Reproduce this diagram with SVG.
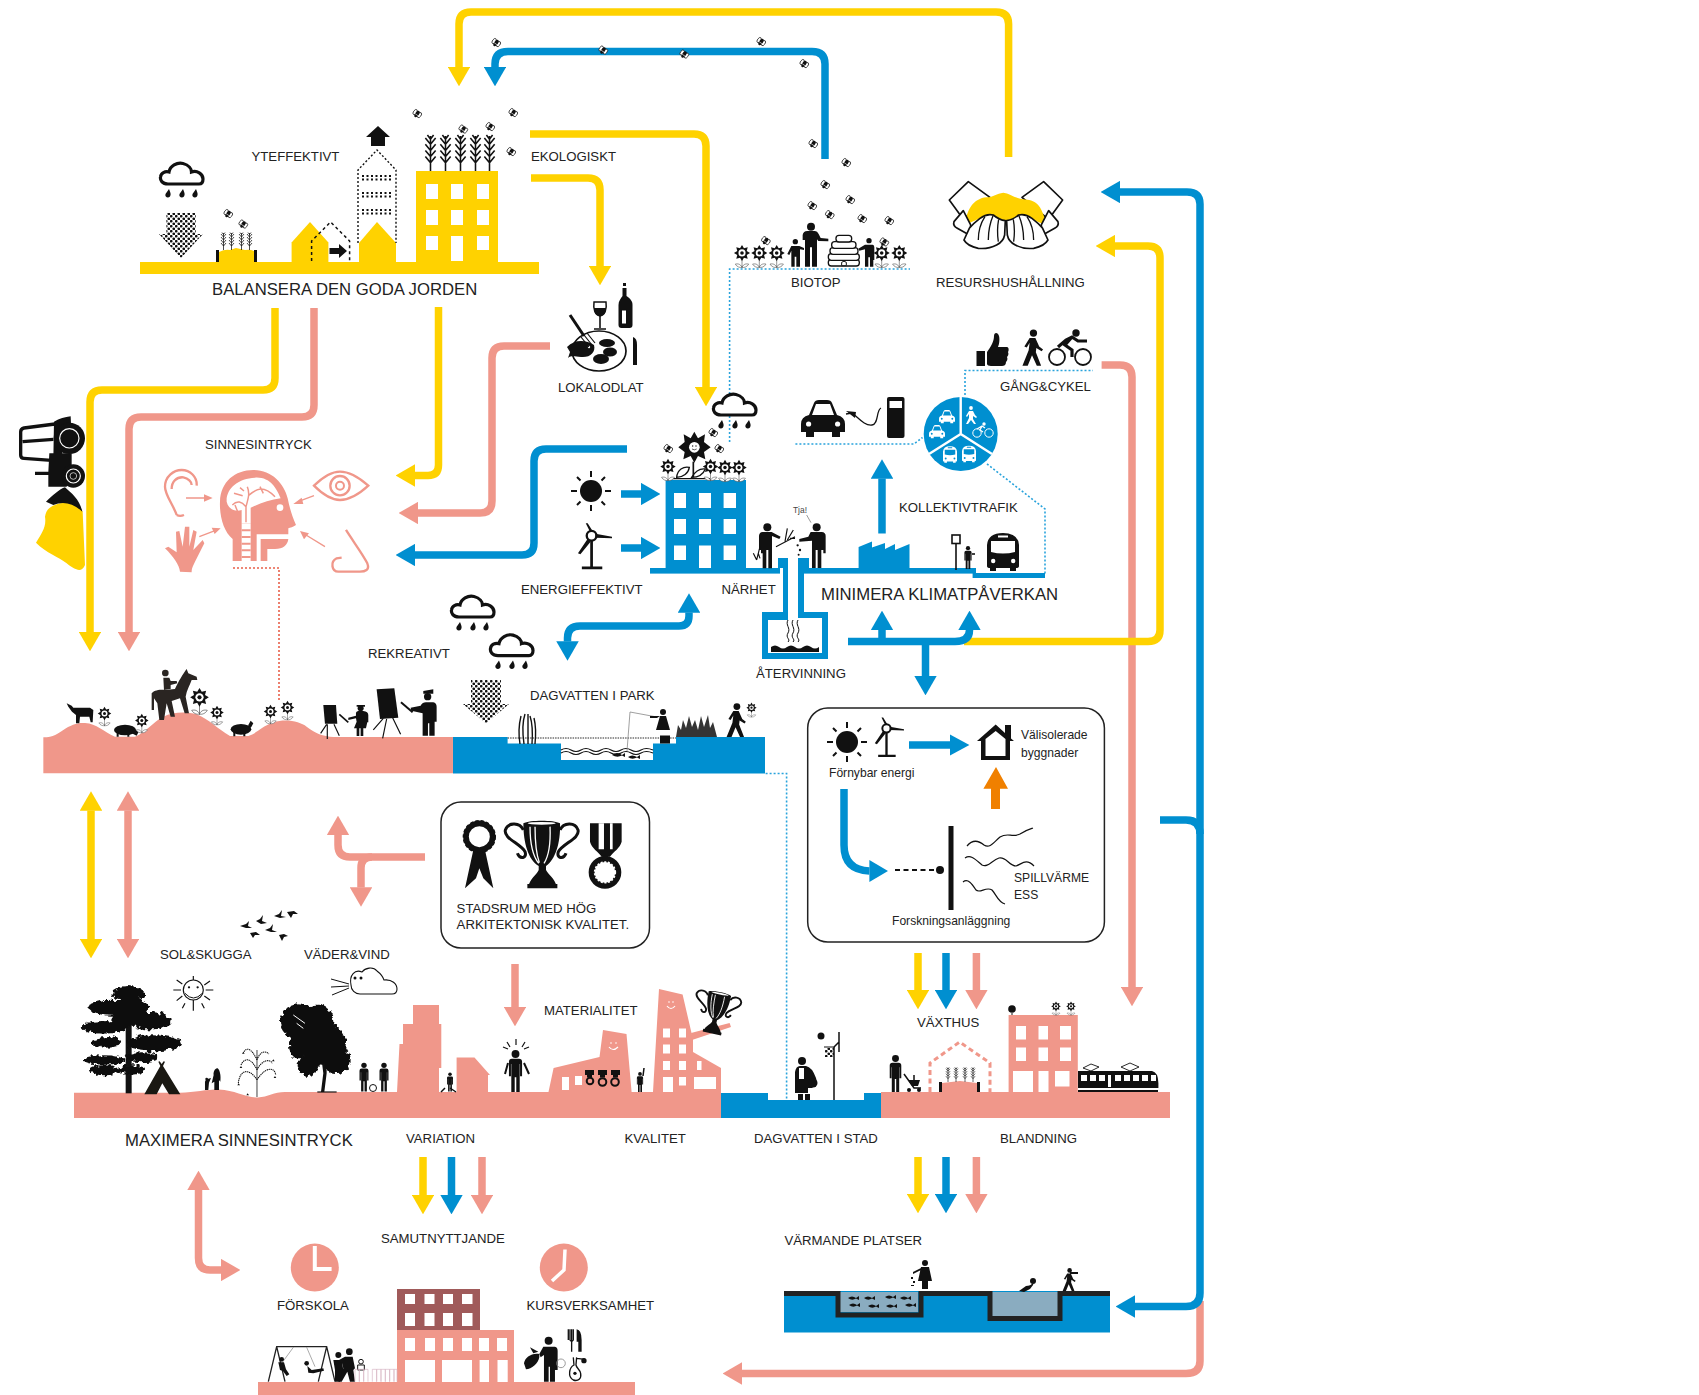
<svg xmlns="http://www.w3.org/2000/svg" width="1699" height="1395" viewBox="0 0 1699 1395">
<style>
.t{font-family:"Liberation Sans",Arial,sans-serif;font-size:13.2px;fill:#222}
.T{font-family:"Liberation Sans",Arial,sans-serif;font-size:16.7px;fill:#222}
.s{font-family:"Liberation Sans",Arial,sans-serif;font-size:12.1px;fill:#222}
.y{fill:#ffd200}.b{fill:#008fd0}.p{fill:#f0978a}.k{fill:#111}.w{fill:#fff}
.cy,.cb,.cp{fill:none;stroke-width:7.5}
.cy{stroke:#ffd200}.cb{stroke:#008fd0}.cp{stroke:#f0978a}
.dot{fill:none;stroke:#29a3dc;stroke-width:1.6;stroke-dasharray:2 2}
.ln{fill:none;stroke:#111;stroke-width:1.2}
.box{fill:#fff;stroke:#222;stroke-width:1.5}
.pl{fill:none;stroke:#f0978a}
</style>
<defs>
<marker id="hy" viewBox="0 0 2.6 3" refX="0.02" refY="1.5" markerWidth="2.6" markerHeight="3" orient="auto-start-reverse"><path d="M0,0L2.6,1.5L0,3Z" fill="#ffd200"/></marker>
<marker id="hb" viewBox="0 0 2.6 3" refX="0.02" refY="1.5" markerWidth="2.6" markerHeight="3" orient="auto-start-reverse"><path d="M0,0L2.6,1.5L0,3Z" fill="#008fd0"/></marker>
<marker id="hp" viewBox="0 0 2.6 3" refX="0.02" refY="1.5" markerWidth="2.6" markerHeight="3" orient="auto-start-reverse"><path d="M0,0L2.6,1.5L0,3Z" fill="#f0978a"/></marker>
<pattern id="dots" width="5" height="5" patternUnits="userSpaceOnUse"><circle cx="1.25" cy="1.25" r="1.35" fill="#111"/><circle cx="3.75" cy="3.75" r="1.35" fill="#111"/></pattern>
<filter id="rough" x="-10%" y="-10%" width="120%" height="120%"><feTurbulence type="fractalNoise" baseFrequency="0.07" numOctaves="2" seed="4" result="n"/><feDisplacementMap in="SourceGraphic" in2="n" scale="22" xChannelSelector="R" yChannelSelector="G"/></filter>
<symbol id="bee" viewBox="-6 -6 12 12"><g transform="rotate(35)"><ellipse cx="-2.6" cy="-.5" rx="1.7" ry="2.9" fill="#fff" stroke="#111" stroke-width=".7"/><ellipse cx="2.6" cy="-.5" rx="1.7" ry="2.9" fill="#fff" stroke="#111" stroke-width=".7"/><ellipse cx="0" cy="0" rx="1.9" ry="3.7" fill="#111"/><path d="M-1.8,.8H1.8" stroke="#fff" stroke-width=".6"/></g></symbol>
<symbol id="flower" viewBox="-10 -10 20 28"><path d="M0,7V17M0,16C-2,12-5,12-7.500,12.500C-6,15.500-2,17 0,16C2,17 6,15.500 7.500,12.500C5,12 2,12 0,16" fill="#fff" stroke="#555" stroke-width=".7"/><path class="k" d="M0,-9L2.200,-5.300L6.400,-6.400L5.300,-2.200L9,0L5.300,2.200L6.400,6.400L2.200,5.300L0,9L-2.200,5.300L-6.400,6.400L-5.300,2.200L-9,0L-5.300,-2.200L-6.400,-6.400L-2.200,-5.300Z"/><circle r="4" fill="#fff"/><circle r="2" fill="#111"/></symbol>
<symbol id="person" viewBox="0 0 20 48"><circle cx="10" cy="4.600" r="4.500" fill="#111"/><path d="M2.500,13.500Q2.500,10 6,10H14Q17.500,10 17.500,13.500V30H15.200V16H14.800V48H10.900V31H9.100V48H5.200V16H4.800V30H2.500Z" fill="#111"/></symbol>
<symbol id="walker" viewBox="0 0 24 38"><circle cx="13" cy="4" r="3.800" fill="#111"/><path d="M9,9L15,9L19,18L23,21L21.500,23L16,19.500L15.500,24L21,38H16.500L11.500,27L7,38H1.500L8,22L9,14L6,19L3.500,18Z" fill="#111"/></symbol>
<symbol id="cloud" viewBox="0 0 47 38"><path d="M10,23C4,23 2,19 2.500,16C3,12 7,10 11,11C12,5 19,1 25,2.500C31,4 33.500,8 33.500,11C39,9 45,13 45,18C45,22 43,23 41,23Z" fill="#fff" stroke="#111" stroke-width="3.200"/><path d="M11,28C12,31 13.500,33 12,35.500C10,37.500 6.500,36 7.500,33ZM25,28C26,31 27.500,33 26,35.500C24,37.500 20.500,36 21.500,33ZM38,28C39,31 40.500,33 39,35.500C37,37.500 33.500,36 34.500,33Z" fill="#111"/></symbol>
<symbol id="wheat" viewBox="0 0 12 36"><path d="M6,36V2M1,4L6,10L11,4M1,10L6,16L11,10M1,16L6,22L11,16M1,22L6,28L11,22M3,1L6,5L9,1" fill="none" stroke="#111" stroke-width="1.500"/></symbol>
<symbol id="turbine" viewBox="0 0 36 48"><circle cx="15" cy="13" r="5" fill="none" stroke="#111" stroke-width="2.400"/><path d="M13,8L9,0L11,0L16,8ZM19,11L36,14L36,15.500L19,15ZM11,16L1,31L3.500,32L14,19Z" fill="#111"/><path d="M15,18V45M5,46H26" stroke="#111" stroke-width="2.800"/></symbol>
<symbol id="sun" viewBox="-22 -22 44 44"><circle r="11" fill="#111"/><g stroke="#111" stroke-width="2"><path d="M0,-20V-14M0,14V20M-20,0H-14M14,0H20M-14,-14L-10.500,-10.500M14,14L10.500,10.500M14,-14L10.500,-10.500M-14,14L-10.500,10.500"/></g></symbol>
<symbol id="car" viewBox="0 0 44 37"><path fill="currentColor" fill-rule="evenodd" d="M0,24Q0,17 8,15L13,3Q14,0 18,0H26Q30,0 31,3L36,15Q44,17 44,24V32H39V37H31V32H13V37H5V32H0ZM11,15H33L29,4H15ZM5,24a2.600,2.600 0 1 0 5.200,0a2.600,2.600 0 1 0 -5.200,0ZM34,24a2.600,2.600 0 1 0 5.200,0a2.600,2.600 0 1 0 -5.200,0Z"/></symbol>
<symbol id="bus" viewBox="0 0 32 38"><path fill="currentColor" fill-rule="evenodd" d="M0,12Q1,0 16,0Q31,0 32,12V33Q32,35 29,35V38H23V35H9V38H3V35Q0,35 0,33ZM4,8V19Q16,22 28,19V8ZM11,2.500V4.500H21V2.500ZM4,28a2.200,2.200 0 1 0 4.400,0a2.200,2.200 0 1 0 -4.400,0ZM24,28a2.200,2.200 0 1 0 4.400,0a2.200,2.200 0 1 0 -4.400,0Z"/></symbol>
<symbol id="trophy" viewBox="185 25 240 215"><path class="k" d="M250,40C270,30 340,30 360,40C362,100 345,150 318,168V180C325,195 345,205 350,230H265C270,205 290,195 296,180V168C265,150 250,100 250,40Z"/><ellipse cx="305" cy="40" rx="42" ry="4" fill="#fff"/><path d="M270,50C270,100 280,140 296,160M285,50C285,90 288,130 298,158M330,50C332,100 325,140 312,160" fill="none" stroke="#fff" stroke-width="4"/><path d="M250,60C240,38 205,35 196,60C190,85 240,100 255,125C262,145 240,150 232,130M360,60C370,38 405,35 414,60C420,85 370,100 355,125C348,145 370,150 378,130" fill="none" stroke="#111" stroke-width="9"/><path class="k" d="M262,222H352V235H262Z"/></symbol>
</defs>

<g id="connectors">
<path class="cp" marker-end="url(#hp)" d="M1101.600,365H1120Q1132,365 1132,377V987"/>
<path class="cp" marker-end="url(#hp)" d="M1200,1301V1361Q1200,1373.500 1186,1373.500H742"/>
<path class="cy" marker-end="url(#hy)" d="M1008.600,157V24Q1008.600,12 996,12H471Q459,12 459,24V67"/>
<path class="cb" marker-end="url(#hb)" d="M825,159V64Q825,51.500 812,51.500H508Q495,51.500 495,64V67"/>
<path class="cy" marker-end="url(#hy)" d="M530,134H694Q706,134 706,146V387"/>
<path class="cy" marker-end="url(#hy)" d="M531,178H588Q600,178 600,190V266"/>
<path class="cy" marker-end="url(#hy)" d="M275,308V378Q275,390 263,390H102Q90,390 90,402V632"/>
<path class="cp" marker-end="url(#hp)" d="M314,308V405Q314,417 302,417H141Q129,417 129,429V632"/>
<path class="cy" marker-end="url(#hy)" d="M438.500,307V465Q438.500,475.500 428,475.500H415"/>
<path class="cp" marker-end="url(#hp)" d="M550,346H504Q492,346 492,358V501Q492,513 480,513H418"/>
<path class="cb" marker-end="url(#hb)" d="M627,449H546Q534,449 534,461V543Q534,555 522,555H415"/>
<path class="cb" marker-end="url(#hb)" d="M621,494H641"/>
<path class="cb" marker-end="url(#hb)" d="M621,548H641"/>
<path class="cb" marker-start="url(#hb)" marker-end="url(#hb)" d="M689,612.500V616Q689,626 679,626H580Q567.500,626 567.500,638V641.500"/>
<path class="cb" marker-end="url(#hb)" d="M882,533.500V478.500"/>
<path class="cy" marker-end="url(#hy)" d="M964,641.500H1148Q1160,641.500 1160,630V258Q1160,246 1148,246H1115"/>
<path class="cb" marker-end="url(#hb)" d="M848,641.500H955Q969.500,641.500 969.500,630"/>
<path class="cb" marker-end="url(#hb)" d="M882,641.500V630"/>
<path class="cb" marker-end="url(#hb)" d="M925.500,641.500V676"/>
<path class="cb" marker-start="url(#hb)" marker-end="url(#hb)" d="M1120,192H1187Q1200,192 1200,204V1293Q1200,1306.500 1186,1306.500H1135"/>
<path class="cb" d="M1160,820H1186Q1200,820 1200,834"/>
<path class="cy" marker-end="url(#hy)" d="M918,953V990"/>
<path class="cb" marker-end="url(#hb)" d="M946,953V990"/>
<path class="cp" marker-end="url(#hp)" d="M976.400,953V990"/>
<path class="cy" marker-end="url(#hy)" d="M918,1157V1194"/>
<path class="cb" marker-end="url(#hb)" d="M946,1157V1194"/>
<path class="cp" marker-end="url(#hp)" d="M976.400,1157V1194"/>
<path class="cy" marker-start="url(#hy)" marker-end="url(#hy)" d="M91,810.600V939"/>
<path class="cp" marker-start="url(#hp)" marker-end="url(#hp)" d="M128,810.600V939"/>
<path class="cp" marker-end="url(#hp)" d="M425,857H350Q338,857 338,845V835"/>
<path class="cp" marker-end="url(#hp)" d="M372,857Q361,857 361,868V887.500"/>
<path class="cp" marker-end="url(#hp)" d="M515,964V1007"/>
<path class="cy" marker-end="url(#hy)" d="M423,1157V1195"/>
<path class="cb" marker-end="url(#hb)" d="M451.500,1157V1195"/>
<path class="cp" marker-end="url(#hp)" d="M482,1157V1195"/>
<path class="cp" marker-start="url(#hp)" marker-end="url(#hp)" d="M198.500,1190V1258Q198.500,1270 210,1270H221"/>
<path class="dot" d="M729.600,442V269H910"/>
<path class="dot" d="M795.400,444H914L922.500,437.500"/>
<path class="dot" d="M965,395V370.500H1093"/>
<path class="dot" d="M987,464L1045,509V574"/>
<path class="dot" d="M765.600,773.500H786.600V1100"/>
<path d="M233,568H279V702" fill="none" stroke="#e8604a" stroke-width="1.600" stroke-dasharray="2 2"/>
</g>

<g id="balansera">
<rect class="y" x="140" y="262" width="399" height="12"/>
<path class="y" d="M416,171H498V262H416Z"/>
<path class="w" d="M426,184h12v15h-12zM451,184h12v15h-12zM477,184h12v15h-12zM426,210h12v15h-12zM451,210h12v15h-12zM477,210h12v15h-12zM426,236h12v14h-12zM451,236h12v25h-12zM477,236h12v14h-12z"/>
<use href="#wheat" x="424" y="134" width="13" height="37"/><use href="#wheat" x="439" y="134" width="13" height="37"/><use href="#wheat" x="454" y="134" width="13" height="37"/><use href="#wheat" x="469" y="134" width="13" height="37"/><use href="#wheat" x="483" y="134" width="13" height="37"/>
<path class="y" d="M291.600,262V242.400L310,222L328.400,242.400V262Z"/>
<path class="y" d="M359,262V243L377,222L396,243V262Z"/>
<path d="M311.600,261V241L330.600,222L349.600,241V261" fill="none" stroke="#111" stroke-width="1.500" stroke-dasharray="3 3"/>
<path class="k" d="M329.500,248H339V244L347,251L339,258V254H329.500Z"/>
<path d="M358,243V170L377,150L396,170V243" fill="none" stroke="#111" stroke-width="1.400" stroke-dasharray="2 2"/>
<path d="M362,176H392M362,179.500H392M362,193H392M362,196.500H392M362,210H392M362,213.500H392" fill="none" stroke="#111" stroke-width="2" stroke-dasharray="2 2.500"/>
<path class="k" d="M378,126L390,137H385V146H371V137H366Z"/>
<use href="#cloud" x="158" y="161" width="47" height="38"/>
<path fill="url(#dots)" d="M166.400,213H195.700V234H203L181,258L159,234H166.400Z"/>
<path class="k" d="M216,250H219V262H216ZM254,250H257V262H254Z"/>
<path class="y" d="M219,262V252Q225,249 230,250L236,248L245,250Q250,249 254,251V262Z"/>
<use href="#wheat" x="220" y="232" width="7" height="18"/><use href="#wheat" x="228" y="232" width="7" height="18"/><use href="#wheat" x="238" y="232" width="7" height="18"/><use href="#wheat" x="246" y="232" width="7" height="18"/>
<text class="t" x="251.500" y="160.600">YTEFFEKTIVT</text>
<text class="t" x="531" y="160.600">EKOLOGISKT</text>
<text class="T" x="212" y="294.500">BALANSERA DEN GODA JORDEN</text>
</g>

<g id="bees">
<use href="#bee" x="490" y="37" width="12" height="12"/><use href="#bee" x="597" y="44.500" width="12" height="12"/><use href="#bee" x="678" y="48.500" width="12" height="12"/><use href="#bee" x="755" y="36" width="12" height="12"/><use href="#bee" x="798" y="58" width="12" height="12"/><use href="#bee" x="807" y="138" width="12" height="12"/><use href="#bee" x="840" y="157" width="12" height="12"/><use href="#bee" x="819" y="179" width="12" height="12"/><use href="#bee" x="844" y="194" width="12" height="12"/><use href="#bee" x="806" y="200" width="12" height="12"/><use href="#bee" x="823.500" y="209" width="12" height="12"/><use href="#bee" x="856" y="213" width="12" height="12"/><use href="#bee" x="883" y="215" width="12" height="12"/><use href="#bee" x="759.600" y="235" width="12" height="12"/><use href="#bee" x="878" y="236.400" width="12" height="12"/><use href="#bee" x="411" y="108" width="12" height="12"/><use href="#bee" x="507" y="107" width="12" height="12"/><use href="#bee" x="457" y="123.500" width="12" height="12"/><use href="#bee" x="484" y="121" width="12" height="12"/><use href="#bee" x="505" y="146" width="12" height="12"/><use href="#bee" x="222" y="208" width="12" height="12"/><use href="#bee" x="237" y="218.500" width="12" height="12"/><use href="#bee" x="707" y="427" width="12" height="12"/><use href="#bee" x="662" y="443" width="12" height="12"/><use href="#bee" x="713" y="443" width="12" height="12"/>
</g>

<g id="biotop">
<use href="#flower" x="733" y="244" width="18" height="25"/><use href="#flower" x="750.300" y="244" width="18" height="25"/><use href="#flower" x="767.700" y="244" width="18" height="25"/><use href="#flower" x="872.700" y="244" width="18" height="25"/><use href="#flower" x="890.300" y="244" width="18" height="25"/>
<g transform="translate(730 160) scale(.3333)">
<circle class="k" cx="243" cy="200" r="12"/><path class="k" d="M218,225Q220,213 232,213H255Q262,213 266,222L272,234L295,236V244L265,243L261,238V320H246V262H240V320H225V240L218,240Z"/>
<circle class="k" cx="196" cy="245" r="8"/><path class="k" d="M172,282L184,258H208L222,264V270L210,268V320H199V290H194V320H184V272L178,285Z"/>
<circle class="k" cx="417" cy="242" r="8"/><path class="k" d="M385,266L405,254H428Q433,254 433,262V300H430V320H420V292H415V320H405V268L388,272Z"/>
<g fill="#fff" stroke="#111" stroke-width="4"><rect x="295" y="298" width="93" height="20" rx="9"/><rect x="295" y="281" width="93" height="20" rx="9"/><rect x="300" y="263" width="84" height="20" rx="9"/><rect x="305" y="245" width="73" height="20" rx="9"/><rect x="318" y="226" width="47" height="20" rx="9"/></g>
<path d="M335,317V307Q342,300 349,307V317Z" fill="#fff" stroke="#111" stroke-width="3"/>
</g>
<text class="t" x="791" y="287">BIOTOP</text>
</g>

<g id="resurs">
<g transform="translate(730 160) scale(.3333)">
<path d="M658,120L715,65L780,112L700,178Z" class="w" stroke="#111" stroke-width="5" stroke-linejoin="round"/>
<path d="M998,120L941,65L876,112L956,178Z" class="w" stroke="#111" stroke-width="5" stroke-linejoin="round"/>
<path class="y" d="M705,195C710,150 730,115 770,112C790,112 800,100 820,98C840,100 855,115 880,118C915,120 935,130 950,197L900,175L828,185L760,170Z"/>
<g id="hL" fill="#fff" stroke="#111" stroke-width="5" stroke-linejoin="round">
<path d="M700,152L672,185Q668,197 682,205L718,225L722,195Z"/>
<path d="M718,205L702,240Q712,258 745,265Q775,268 800,255Q820,245 824,225L826,182Q808,180 790,165Q770,160 750,175Q730,190 718,205Z"/>
<path d="M765,170Q745,200 745,240M790,165Q775,200 775,240M806,178Q800,210 805,245" fill="none" stroke-width="4"/>
</g>
<g transform="translate(1656 0) scale(-1 1)" fill="#fff" stroke="#111" stroke-width="5" stroke-linejoin="round">
<path d="M700,152L672,185Q668,197 682,205L718,225L722,195Z"/>
<path d="M718,205L702,240Q712,258 745,265Q775,268 800,255Q820,245 824,225L826,182Q808,180 790,165Q770,160 750,175Q730,190 718,205Z"/>
<path d="M765,170Q745,200 745,240M790,165Q775,200 775,240M806,178Q800,210 805,245" fill="none" stroke-width="4"/>
</g>
</g>
<text class="t" x="936" y="287">RESURSHUSHÅLLNING</text>
</g>

<g id="lokalodlat">
<path d="M600,302H594C593,309 595,315 600,316C605,315 607,309 606,302Z" fill="#fff" stroke="#111" stroke-width="1.500"/>
<path class="k" d="M594,308H606C606,313 604,316 600,316C596,316 594,313 594,308Z"/><path d="M600,316V328M594,329H606" stroke="#111" stroke-width="1.600"/>
<path d="M623,283h3v3h-3zM622.500,288h4v8c4,3 6,5 6,9v20q0,3-3,3h-8q-3,0-3-3v-20c0-4 2-6 4-9z" fill="#111"/>
<path d="M621.500,310h5v14h-5z" fill="#fff" stroke="#111" stroke-width="1"/>
<ellipse cx="599" cy="351" rx="27" ry="20" fill="#fff" stroke="#111" stroke-width="1.700"/>
<path class="k" d="M567,347C575,339 586,340 594,345C596,352 590,358 581,357C575,357 572,355 568,358L570,352Z"/><circle cx="589" cy="347" r="1.200" class="w"/>
<ellipse class="k" cx="607" cy="343" rx="8" ry="4"/><ellipse class="k" cx="610" cy="352" rx="7" ry="4.500"/><ellipse class="k" cx="601" cy="359" rx="8" ry="5"/>
<path d="M570,315L584,336" stroke="#111" stroke-width="3"/><path d="M584,335L592,345M581,337L589,347M587,333L595,343" stroke="#111" stroke-width="1.200"/>
<path class="k" d="M633,337Q637,338 637,345V365H633Z"/>
<text class="t" x="558" y="392">LOKALODLAT</text>
</g>

<g id="traktor">
<g transform="translate(10 410) scale(.3333)">
<path class="y" d="M135,285C165,270 205,280 218,305L225,465C215,490 195,480 170,460C145,440 110,430 78,398C95,370 110,350 105,320C108,300 120,290 135,285Z"/>
<path d="M135,42L42,54Q32,56 32,66V135Q32,145 42,145L135,152M38,95L130,88" fill="none" stroke="#111" stroke-width="10" stroke-linejoin="round"/>
<path class="k" d="M132,35C148,25 165,22 182,19L183,40L150,150L130,150ZM118,130H185V175L170,230H115V195H75V185H115Z"/>
<path class="k" d="M108,275C125,260 150,235 165,232C185,250 210,270 217,305C190,280 160,272 130,285Z"/>
<circle class="k" cx="178" cy="85" r="47"/><circle cx="178" cy="85" r="29" fill="none" stroke="#fff" stroke-width="3.500"/><circle cx="178" cy="85" r="20" fill="none" stroke="#fff" stroke-width="0"/>
<circle class="k" cx="190" cy="198" r="35"/><circle cx="190" cy="198" r="21" fill="none" stroke="#fff" stroke-width="3.500"/><circle cx="190" cy="198" r="10" fill="none" stroke="#fff" stroke-width="2"/>
</g>
</g>

<g id="sinnesintryck">
<g transform="translate(160 465) scale(.3333)">
<path class="p" d="M218,288V222C190,200 178,150 180,110C182,50 225,15 280,15C335,15 372,55 383,100C388,125 395,150 408,180C400,186 390,188 385,190V208H290V288Z"/>
<path class="p" d="M302,288V222H385C383,240 370,252 345,252H322V288Z"/>
<path class="w" d="M200,110C198,70 235,40 285,38C330,35 350,70 362,100C330,105 300,115 272,128V175H245V135C225,142 205,132 200,110Z"/>
<path d="M258,172V125C245,110 232,105 217,120M258,125C265,100 270,85 262,65M265,92C290,70 310,60 345,95M222,85L248,92M225,120L236,148M300,65L310,85M240,68L252,78" class="pl" stroke-width="4.500"/>
<rect class="w" x="245" y="175" width="27" height="113"/>
<path d="M245,196H272M245,216H272M245,236H272M245,256H272M245,276H272" stroke="#f0978a" stroke-width="6"/>
<circle class="w" cx="360" cy="128" r="10"/>
<path d="M50,150C40,120 15,90 15,65C15,35 40,15 65,15C90,15 112,35 110,62M35,72C35,50 50,35 70,37C85,40 95,50 95,60" class="pl" stroke-width="7"/><path d="M50,150Q60,155 72,150" class="pl" stroke-width="7"/>
<path class="p" d="M60,320C58,300 40,275 15,250L25,245L50,262L48,200L58,198L68,245L75,185L88,185L88,245L100,195L110,200L100,255L128,225L133,235L105,290C98,305 95,310 95,322Z"/>
<path d="M462,62C490,35 515,20 540,20C570,20 600,40 625,62C600,85 570,105 540,105C515,105 490,90 462,62Z" class="pl" stroke-width="7"/><circle cx="540" cy="62" r="29" class="pl" stroke-width="7"/><circle cx="540" cy="62" r="12" class="pl" stroke-width="6"/>
<path d="M558,195C580,230 610,270 622,295C630,315 615,320 600,320H535C515,320 510,290 530,280L545,278" class="pl" stroke-width="7"/>
<path d="M78,99H135M462,92L420,108M118,215L165,197M495,245L438,210" class="pl" stroke-width="4"/>
<path class="p" d="M158,99L132,88V110ZM400,117L425,98L430,117ZM182,190L155,188L164,207ZM420,198L432,223L447,205Z"/>
</g>
<text class="t" x="205" y="449">SINNESINTRYCK</text>
</g>

<g id="energi">
<use href="#sun" x="569" y="469" width="44" height="44"/>
<use href="#turbine" x="577" y="523" width="35" height="47"/>
<rect class="b" x="650" y="568" width="130" height="5.600"/>
<rect class="b" x="665.600" y="480" width="80.400" height="90"/>
<path class="w" d="M674,493h12v15h-12zM699,493h12v15h-12zM723.600,493h12.400v15h-12.400zM674,519h12v15h-12zM699,519h12v15h-12zM723.600,519h12.400v15h-12.400zM674,545.500h12v14.500h-12zM699,545.500h12v22.500h-12zM723.600,545.500h12.400v14.500h-12.400z"/>
<g transform="translate(660 390) scale(.3333)">
<path d="M30,266H150" stroke="#111" stroke-width="4"/>
<path d="M50,262C52,240 70,228 88,232C85,250 70,262 50,262ZM95,262C105,245 120,235 136,237C130,252 115,262 95,262Z" fill="#fff" stroke="#111" stroke-width="4"/>
<path d="M100,215V262" stroke="#111" stroke-width="5"/>
<path class="k" d="M103,125L114,145L135,133L132,156L152,172L132,186L136,208L114,198L103,218L92,198L70,208L74,186L55,172L74,156L71,133L92,145Z"/>
<circle class="w" cx="103" cy="172" r="16"/><circle class="k" cx="98" cy="168" r="2"/><circle class="k" cx="108" cy="168" r="2"/><path d="M96,177Q103,182 110,177" stroke="#111" stroke-width="2" fill="none"/>
</g>
<use href="#flower" x="659" y="458" width="18" height="24"/><use href="#flower" x="701.500" y="458" width="18" height="24"/><use href="#flower" x="716" y="459" width="18" height="24"/><use href="#flower" x="730" y="459" width="18" height="24"/>
<use href="#cloud" x="711" y="392" width="47" height="38"/>
<text class="t" x="521" y="594">ENERGIEFFEKTIVT</text>
</g>

<g id="narhet">
<g transform="translate(660 390) scale(.3333)">
<circle class="k" cx="322" cy="412" r="12"/><path class="k" d="M297,438Q298,426 308,426H335L362,440L358,447L336,438V535H325V480H319V535H308V490H303V480H297Z"/>
<circle class="k" cx="470" cy="412" r="12"/><path class="k" d="M418,447L445,440L452,426H485Q497,427 497,438V490H490V480H484V535H473V480H467V535H456V452L418,455Z"/>
<path d="M348,470L405,440M375,455L382,415M382,450L400,420M390,445L405,445M300,470L290,510M290,510L280,490M295,490L300,505" fill="none" stroke="#111" stroke-width="3.500"/>
<circle class="k" cx="413" cy="466" r="3.500"/><circle class="k" cx="420" cy="480" r="3.500"/><circle class="k" cx="416" cy="494" r="3"/>
<path d="M440,375L453,398" stroke="#666" stroke-width="2"/>
</g>
<text x="793" y="513" font-family="'Liberation Sans',Arial,sans-serif" font-size="8.400" fill="#444">Tja!</text>
<text class="t" x="721.500" y="594">NÄRHET</text>
</g>

<g id="atervinning">
<path class="b" d="M778,558H788V620H768V653H822V618H798V558H809V568H804V612H828V659H762V612H783V568H778Z"/>
<path class="k" d="M771,647Q775,644 779,647T787,647T795,647T803,647T811,647T819,647V652H771Z"/>
<path d="M788,620C785,625 791,628 788,633C785,638 791,639 788,642M793,620C790,625 796,628 793,633C790,638 796,639 793,642M798,620C795,625 801,628 798,633C795,638 801,639 798,642" fill="none" stroke="#111" stroke-width="1"/>
<text class="t" x="756" y="677.500">ÅTERVINNING</text>
</g>

<g id="klimat">
<rect class="b" x="803" y="568" width="173" height="5.600"/>
<rect class="b" x="972.600" y="573" width="72.400" height="5"/>
<path class="b" d="M858.600,568V547L872,541.500V547.500L885,543V549L895,544V550L909.500,544V568Z"/>
<path d="M956,570V535" stroke="#111" stroke-width="1.600"/><rect x="952" y="535" width="8" height="8.500" fill="#fff" stroke="#111" stroke-width="1.600"/>
<use href="#person" x="962" y="546" width="12" height="23"/><path d="M972,554H975" stroke="#111" stroke-width="1.600"/>
<use href="#bus" x="987" y="533" width="32" height="38" style="color:#111"/>
<use href="#car" x="801" y="400" width="44" height="37" style="color:#111"/>
<path d="M846,414L852,413C858,417 864,426 872,425C879,424 876,410 881,408" fill="none" stroke="#111" stroke-width="1.300"/>
<path class="k" d="M846,411L856,412L855,418Z"/>
<rect x="887" y="397" width="17.500" height="41" rx="2" class="k"/><rect x="889.500" y="401" width="12.500" height="7" class="w"/>
<circle cx="960.700" cy="434" r="37" class="b"/>
<path d="M960.700,434V396M960.700,434L929,454M960.700,434L992,454" stroke="#fff" stroke-width="2.400"/>
<use href="#car" x="939" y="410" width="16" height="13.500" style="color:#fff"/>
<use href="#car" x="929" y="425" width="16" height="13.500" style="color:#fff"/>
<use href="#bus" x="943" y="446" width="14" height="17" style="color:#fff"/>
<use href="#bus" x="962" y="444" width="14" height="20" style="color:#fff"/>
<use href="#walker" x="966" y="406" width="11" height="17" style="color:#fff" opacity="0"/>
<circle cx="971" cy="408" r="1.900" class="w"/><path d="M969,411H973L975,415L977,417L976,418L973,416V419L976,424H974L971,420L968,424H966L969,418V414L967,417L966,416Z" class="w"/>
<circle cx="984" cy="424" r="1.700" class="w"/><path d="M977,429L982,426L985,428M982,426L980,430L983,432" stroke="#fff" stroke-width="1.300" fill="none"/><circle cx="977" cy="433" r="4.200" fill="none" stroke="#fff" stroke-width="1"/><circle cx="989" cy="433" r="4.200" fill="none" stroke="#fff" stroke-width="1"/>
<text class="t" x="899" y="512">KOLLEKTIVTRAFIK</text>
<text class="T" x="821" y="600">MINIMERA KLIMATPÅVERKAN</text>
</g>

<g id="gangcykel">
<path class="k" d="M976.500,351H985V366H976.500ZM987,352C991,347 994,341 994,336C994,332 998,332 999,336C1000,340 999,345 998,347H1007C1009,347 1009,351 1008,352C1009,354 1008,356 1007,357C1008,359 1007,361 1006,362C1006,365 1004,366 1002,366H991C989,366 987,365 987,364Z"/>
<use href="#walker" x="1021" y="329" width="23" height="37"/>
<circle cx="1057" cy="357" r="8" fill="none" stroke="#111" stroke-width="1.800"/><circle cx="1083" cy="357" r="8" fill="none" stroke="#111" stroke-width="1.800"/>
<circle cx="1076" cy="333" r="3.700" class="k"/><path d="M1058,347L1066,340L1072,337L1078,341H1087M1072,337L1065,345L1072,350V357" fill="none" stroke="#111" stroke-width="3.200"/>
<text class="t" x="1000" y="391">GÅNG&amp;CYKEL</text>
</g>

<g id="rekreativt">
<use href="#cloud" x="449" y="594" width="47" height="38"/><use href="#cloud" x="488" y="632.600" width="47" height="38"/>
<text class="t" x="368" y="657.500">REKREATIVT</text>
</g>

<g id="park">
<g transform="translate(40 665) scale(.3333)">
<path class="p" d="M10,325V217C40,217 55,205 70,195C90,180 115,172 135,174C170,176 190,200 225,215H285C320,200 340,170 370,155C400,140 440,140 470,148C510,165 530,190 570,213H625C650,205 665,185 700,172C740,160 780,170 800,185C825,205 850,214 880,216H1239V325Z"/>
<path class="k" d="M85,125L80,115L95,122L100,128H150L160,135L158,172H152L148,155H120L118,175H108V150L96,140Z"/>
<ellipse class="k" cx="255" cy="195" rx="33" ry="16"/><path class="k" d="M280,190L296,200L290,212L275,205ZM230,200H236V215H230ZM262,205H268V215H262Z"/>
<ellipse class="k" cx="603" cy="193" rx="31" ry="16"/><path class="k" d="M625,180L632,167L640,175L634,186L625,192ZM580,200H586V214H580ZM610,200H616V214H610Z"/>
<path d="M335,85C340,78 355,72 375,75L405,72C415,50 430,25 440,12L445,25L470,35L472,45L455,45C450,60 440,75 437,95L447,145H434L420,100L395,108L405,155H392L380,115L372,165H358L352,115L342,100V135H335Z" fill="#2a2522"/>
<circle cx="376" cy="24" r="10" fill="#2a2522"/><path d="M370,38H388L392,48H410L412,55L392,60V72L372,75Z" fill="#2a2522"/>
<path class="k" d="M850,120H888L892,176H855Z"/><path d="M860,178L842,205M862,178V222M882,178L898,212" stroke="#111" stroke-width="3.500"/>
<circle class="k" cx="962" cy="130" r="9"/><path class="k" d="M950,120H975V125H950ZM948,143Q950,138 955,138H970Q985,140 985,150V172H982L978,190H970V213H962V190H958V213H950V190H942L950,170L948,160L925,165V158L948,152Z"/>
<path d="M898,148L925,172" stroke="#111" stroke-width="5"/>
<path class="k" d="M1010,73L1063,70L1075,158L1020,162Z"/><path d="M1030,160L1000,195M1040,162L1028,220M1058,158L1082,208" stroke="#111" stroke-width="3.500"/>
<circle class="k" cx="1163" cy="95" r="11"/><path class="k" d="M1150,78L1180,73V86H1150ZM1112,128L1142,122Q1148,112 1158,112H1180Q1190,114 1190,125V170H1184V212H1168V175H1164V212H1148V145L1114,137Z"/>
<path d="M1083,112L1118,142" stroke="#111" stroke-width="6"/>
</g>
<use href="#flower" x="97" y="706" width="15" height="21"/><use href="#flower" x="134.300" y="713" width="15" height="21"/><use href="#flower" x="189" y="687" width="21" height="29"/><use href="#flower" x="209.500" y="705" width="15" height="21"/><use href="#flower" x="263" y="704" width="15" height="21"/><use href="#flower" x="280" y="700" width="15" height="21"/>
<path class="b" d="M453,737H507.600V743.600H561V760H653V743.600H676V737H765V773.500H453Z"/>
<path d="M507.600,738H676" stroke="#111" stroke-width=".9" stroke-dasharray="1.500 1"/>
<path d="M561,750Q566,747 571,750T581,750T591,750T601,750T611,750T621,750T631,750T641,750T653,750M561,753Q566,750 571,753T581,753T591,753T601,753T611,753T621,753T631,753T641,753T653,753" class="ln" stroke-width=".8"/>
<path class="k" d="M612,755Q617,751 622,755L625,753V757L622,755.500Q617,758 612,755ZM628,757Q632,754 637,757L640,755V759L637,757.500Q632,760 628,757Z"/>
<path d="M520,744C518,732 519,724 521,716M524,744C522,730 523,720 525,714M528,744V714M532,744C533,730 532,722 530,716M535,744C536,734 536,726 534,718" fill="none" stroke="#111" stroke-width="1.400"/>
<path fill="url(#dots)" d="M471,680H501V704H509L486,723.600L463,704H471Z"/>
<path d="M630,712L657,717M630,712L627,751" fill="none" stroke="#888" stroke-width=".8"/>
<circle cx="663" cy="712" r="3" class="k"/><path class="k" d="M660,716H666L670,730H656ZM657,718L650,718V716L660,716ZM660,735.500H670V743.600H660Z"/>
<path class="k" d="M676,737L678,725L681,730L683,720L686,728L689,716L692,727L695,720L698,730L701,716L704,727L708,715L710,728L713,722L717,737Z" opacity=".85"/>
<use href="#walker" x="725" y="703" width="22" height="34"/>
<use href="#flower" x="745" y="702" width="13" height="16"/>
<text class="t" x="530" y="700">DAGVATTEN I PARK</text>
</g>

<g id="stadsrum">
<rect class="box" x="441" y="802" width="208.500" height="146" rx="20"/>
<g transform="translate(440 810) scale(.3333)">
<path class="k" d="M100,120L75,235L108,205L118,175L130,205L160,235L135,120Z"/>
<circle cx="118" cy="80" r="40" fill="none" stroke="#111" stroke-width="17" /><circle cx="118" cy="80" r="47" fill="none" stroke="#111" stroke-width="6" stroke-dasharray="10 6"/>
<path class="k" d="M450,40H545V95C540,115 520,125 510,140H485C475,125 455,115 450,95Z"/><path class="w" d="M476,40H492V118H476ZM510,40H518V118H510Z"/>
<circle cx="495" cy="187" r="40" fill="none" stroke="#111" stroke-width="18"/><circle cx="495" cy="187" r="31" fill="none" stroke="#fff" stroke-width="5" stroke-dasharray="6 5"/>
<path class="k" d="M488,135H504V150H488Z"/>
</g>
<use href="#trophy" x="501.700" y="818.300" width="80" height="71.700"/>
<text class="t" x="456.600" y="913">STADSRUM MED HÖG</text>
<text class="t" x="456.600" y="929">ARKITEKTONISK KVALITET.</text>
</g>

<g id="maximera">
<path class="p" d="M74,1118V1092.800H180C195,1092 206,1089.400 219,1089.400C235,1090 245,1097.500 258,1097.500C268,1097 274,1092 285,1092H721V1118Z"/>
<path class="p" d="M397,1092L399.500,1044H403V1024H413V1005H439V1024H441.300V1068H439V1092Z"/>
<path class="p" d="M456.600,1092V1057.600H474.500L490,1075H488V1092Z"/>
<path class="p" d="M548.500,1092L553.600,1068L599.500,1057L603,1030L626.500,1034L631.600,1092Z"/>
<path class="p" d="M653,1092L659,989L682.600,994.400L693,1039.500V1052L721,1068V1092Z"/>
<path class="p" d="M691,1033L729.600,1023L731,1027L692,1040Z"/>
<path class="w" d="M562,1077h7v13h-7zM575,1076h7v9h-7zM663,1028.500h7v9h-7zM679,1028.500h7v9h-7zM663,1044.500h7v9h-7zM679,1044.500h7v9h-7zM663,1061h7v9h-7zM679,1061h7v9h-7zM697,1061h4.500v9h-4.500zM663,1077h10v15h-10zM679,1077h7v8.500h-7zM694,1077h22v12h-22z"/>
<path d="M609,1047Q613,1052 618,1047M667,1006Q671,1011 675,1006" fill="none" stroke="#fff" stroke-width="1.200"/>
<circle cx="611" cy="1043" r=".8" class="w"/><circle cx="616" cy="1043" r=".8" class="w"/><circle cx="669" cy="1002" r=".8" class="w"/><circle cx="673" cy="1002" r=".8" class="w"/>
<g transform="translate(75 980) scale(.3333)">
<rect class="k" x="152" y="100" width="18" height="240"/>
<g class="k" filter="url(#rough)">
<ellipse cx="160" cy="40" rx="48" ry="22"/><ellipse cx="112" cy="83" rx="72" ry="24"/><ellipse cx="175" cy="85" rx="45" ry="30"/><ellipse cx="225" cy="122" rx="62" ry="26"/><ellipse cx="85" cy="142" rx="65" ry="19"/><ellipse cx="140" cy="125" rx="35" ry="25"/><ellipse cx="235" cy="190" rx="85" ry="24"/><ellipse cx="95" cy="187" rx="45" ry="16"/><ellipse cx="85" cy="240" rx="62" ry="14"/><ellipse cx="90" cy="270" rx="45" ry="16"/><ellipse cx="200" cy="232" rx="50" ry="15"/><ellipse cx="170" cy="270" rx="40" ry="14"/>
</g>
<path d="M208,343L256,258L250,245L254,244L260,252L266,244L270,245L264,258L316,343H282L262,310L245,343Z" fill="#1a1812"/>
<circle cx="355" cy="30" r="30" fill="#fff" stroke="#111" stroke-width="3.500"/>
<path d="M355,-12V0M355,60V92M295,30H318M392,30H415M305,0L322,12M405,60L388,48M405,3L388,15M305,62L322,48M330,70L322,85M380,70L388,85" stroke="#111" stroke-width="3.500" fill="none"/>
<path d="M330,40Q355,68 382,40" fill="none" stroke="#111" stroke-width="3"/><circle class="k" cx="342" cy="22" r="3.500"/><circle class="k" cx="368" cy="22" r="3.500"/>
<path class="k" d="M416,285C414,275 422,262 428,265C436,272 438,290 436,305L432,300V330H418V305L410,310ZM390,330V305L394,296H400L408,294L402,308L400,330Z"/><circle class="k" cx="395" cy="297" r="4"/>
<path d="M546,350V210M546,240C530,205 515,200 505,218M546,240C555,215 570,210 582,222M546,270C530,235 510,230 498,255M546,270C560,240 585,235 592,250M546,300C525,265 495,265 490,310M546,300C570,260 600,260 602,285" fill="none" stroke="#111" stroke-width="3.200" stroke-dasharray="4 2"/>
<path class="k" d="M505,215l4,6h-8zM595,238l4,6h-8zM498,258l4,6h-8zM600,288l4,6h-8zM491,310l4,6h-8zM518,340l4,6h-8z"/>
<path d="M727,336H785" stroke="#111" stroke-width="3.500"/><path class="k" d="M740,240H755V280L748,336H738L745,280Z"/>
<g class="k" filter="url(#rough)">
<ellipse cx="670" cy="125" rx="55" ry="52"/><ellipse cx="725" cy="122" rx="50" ry="48"/><ellipse cx="745" cy="190" rx="68" ry="65"/><ellipse cx="785" cy="240" rx="42" ry="42"/><ellipse cx="700" cy="255" rx="32" ry="32"/><ellipse cx="670" cy="195" rx="28" ry="40"/>
</g>
<path d="M655,105L690,130M665,130L685,145" stroke="#fff" stroke-width="3"/>
</g>
<g transform="translate(75 980) scale(.3333)"><path d="M0,0" fill="none"/></g>
<use href="#person" x="358" y="1062" width="12" height="30"/><use href="#person" x="378" y="1062" width="12" height="30"/>
<circle cx="373" cy="1088" r="3.500" fill="#fff" stroke="#111"/>
<use href="#person" x="446" y="1072" width="8" height="20"/>
<path d="M445,1088L441,1092M450,1088L456,1092" stroke="#111" stroke-width="1.500"/>
<use href="#person" x="503" y="1050" width="25" height="42"/>
<path d="M507,1042L510,1047M516,1039V1045M525,1042L522,1047M503,1047L508,1049M529,1047L524,1049" stroke="#111" stroke-width="1.200"/>
<path d="M508,1063L505,1074M524,1063L529,1074" stroke="#111" stroke-width="2"/>
<path class="k" d="M585,1070h9v5h-2v2.500h-5V1075h-2zM598,1070h9v5h-2v2.500h-5V1075h-2zM611,1070h9v5h-2v2.500h-5V1075h-2z"/>
<g fill="none" stroke="#111" stroke-width="2"><circle cx="590" cy="1081" r="3.300"/><circle cx="602.500" cy="1082" r="3.800"/><circle cx="615" cy="1082" r="3.800"/></g>
<use href="#person" x="635" y="1072" width="10" height="20"/><path d="M643,1076L644,1068" stroke="#111" stroke-width="1.500"/>
<use href="#trophy" x="691" y="990" width="50" height="45" transform="rotate(12 716 1012)"/>
<text class="t" x="544" y="1015">MATERIALITET</text>
<text class="T" x="125" y="1145.500">MAXIMERA SINNESINTRYCK</text>
<text class="t" x="406" y="1143">VARIATION</text>
<text class="t" x="624.500" y="1143">KVALITET</text>
<text class="t" x="160" y="959">SOL&amp;SKUGGA</text>
<text class="t" x="304" y="959">VÄDER&amp;VIND</text>
</g>

<g id="birds" fill="#111">
<path d="M240,926L246,924L249,921L248,926L252,928L246,928ZM256,921L260,919L263,915L262,921L267,923L261,924ZM274,916L279,914L282,910L281,916L286,917L280,918ZM287,912L294,911L298,914L293,914L291,918ZM250,933L256,932L260,935L255,935L253,938ZM265,930L270,928L273,924L272,930L277,932L271,932ZM279,935L284,934L288,936L284,937L282,941Z"/>
</g>

<g id="vind">
<path d="M351,985C349,975 355,969 362,972C365,968 373,966 377,971C381,974 383,977 384,980C392,979 397,984 397,989C397,992 395,994 392,994H360C355,994 351,990 351,985Z" fill="#fff" stroke="#111" stroke-width="1.100"/>
<path d="M349,984L331,979M349,986L331,987M349,988L332,995" stroke="#111" stroke-width="1"/>
<circle cx="355" cy="978" r="1.500" class="k"/><circle cx="361" cy="978" r="1.500" class="k"/>
</g>

<g id="stad">
<path class="b" d="M721,1093H768V1100H864V1093H881V1118H721Z"/>
<circle class="k" cx="802" cy="1061" r="4"/><path class="k" d="M795,1072Q796,1066 800,1066H806Q812,1067 816,1078L817,1083L812,1088H808V1093H795Z"/>
<path class="w" d="M799,1068H804V1079H799Z"/>
<path class="k" d="M798,1094h5v6h-5zM805,1094h5v6h-5z"/>
<circle cx="813" cy="1083" r="4.500" class="k"/>
<path d="M834,1100V1047M839,1032V1052M839,1042L834,1047" stroke="#111" stroke-width="1.500" fill="none"/>
<rect x="825" y="1048" width="9" height="9" fill="url(#dots)"/><path d="M824,1047H835" stroke="#111"/>
<circle cx="821" cy="1036" r="3.500" class="k"/>
<text class="t" x="754" y="1143">DAGVATTEN I STAD</text>
</g>

<g id="vaxthus">
<path class="p" d="M881,1092H1170V1118H881Z"/>
<use href="#person" x="887" y="1055" width="17" height="37"/>
<path d="M904,1074L914,1088H921M914,1075V1080" fill="none" stroke="#111" stroke-width="1.500"/>
<path class="k" d="M908,1080H920L918,1086H912Z"/><circle cx="909" cy="1090" r="2" class="k"/><circle cx="919" cy="1090" r="2" class="k"/>
<path d="M930,1092V1063L959.600,1042L990,1063V1092" fill="none" stroke="#f0978a" stroke-width="3" stroke-dasharray="5 3.500"/>
<path class="p" d="M942,1092V1083L960,1081L977,1083V1092Z"/><path class="k" d="M939,1082h3v10h-3zM977,1082h3v10h-3z"/>
<use href="#wheat" x="945" y="1067" width="6" height="15"/><use href="#wheat" x="953" y="1067" width="6" height="15"/><use href="#wheat" x="962" y="1067" width="6" height="15"/><use href="#wheat" x="970" y="1067" width="6" height="15"/>
<path class="p" d="M1008.600,1015H1077.800V1093H1008.600Z"/>
<path class="w" d="M1016,1026h10v13.600h-10zM1038.500,1026h9.500v13.600h-9.500zM1060,1026h11v13.600h-11zM1016,1047.600h10v13.400h-10zM1038.500,1047.600h9.500v13.400h-9.500zM1060,1047.600h11v13.400h-11zM1013,1071h20v21h-20zM1038.500,1071h10v21h-10zM1055,1071h14.500v15.500h-14.500z"/>
<circle cx="1012" cy="1009" r="3.800" class="k"/><path d="M1012,1013V1015" stroke="#111"/>
<use href="#flower" x="1050" y="1001" width="12" height="15"/><use href="#flower" x="1065" y="1001" width="12" height="15"/>
<path class="k" d="M1078,1071H1152Q1158,1072 1158.400,1083V1088H1078Z"/><path d="M1078,1091H1158" stroke="#111" stroke-width="2"/>
<path d="M1081,1075h6v6h-6zM1090,1075h6v6h-6zM1099,1075h6v6h-6zM1108,1075h3v12h-3zM1115,1075h6v6h-6zM1124,1075h6v6h-6zM1133,1075h6v6h-6zM1142,1075h6v6h-6zM1151,1075h5v6h-5z" class="w"/>
<path d="M1083,1068L1091,1064L1099,1067L1091,1071ZM1121,1067L1130,1063L1139,1067L1130,1071Z" fill="none" stroke="#111" stroke-width=".9"/>
<text class="t" x="917" y="1027">VÄXTHUS</text>
<text class="t" x="1000" y="1143">BLANDNING</text>
</g>

<g id="energibox">
<rect class="box" x="807.700" y="708" width="296.700" height="234" rx="20"/>
<use href="#sun" x="825" y="720" width="44" height="44"/>
<use href="#turbine" x="874" y="715" width="30" height="45"/>
<path d="M909,745H950" stroke="#008fd0" stroke-width="7.500"/><path class="b" d="M950,734.500L969.400,745L950,755.500Z"/>
<path class="k" fill-rule="evenodd" d="M995.700,724.600L1005,733V725H1011V738.500L1014,741H1010V760H981V741H977ZM985.500,739V756H1005.500V739L995.700,731Z"/>
<path d="M996,767L1008,788.700H1000V809H991V788.700H983.400Z" fill="#f08000"/>
<path d="M844,789V845Q844,870 869.400,871" fill="none" stroke="#008fd0" stroke-width="7.500"/><path class="b" d="M869.400,860L888,871L869.400,882Z"/>
<path d="M895,870H936" stroke="#111" stroke-width="1.800" stroke-dasharray="5 3.500"/><circle cx="940" cy="870" r="4" class="k"/>
<rect x="948.500" y="826" width="5" height="84" class="k"/>
<path d="M967,846C972,840 978,840 984,845C990,849 994,842 1000,837C1008,832 1012,838 1020,834C1026,830 1030,829 1033,828" class="ln"/>
<path d="M965,858C971,854 976,860 982,865C988,868 992,860 999,858C1006,856 1009,866 1016,866C1022,864 1026,858 1034,866" class="ln"/>
<path d="M963,882C968,878 972,884 976,890C980,894 986,886 992,890C996,894 998,902 1005,904" class="ln"/>
<text class="s" x="1021" y="739">Välisolerade</text>
<text class="s" x="1021" y="757">byggnader</text>
<text class="s" x="829" y="777">Förnybar energi</text>
<text class="s" x="892" y="924.500">Forskningsanläggning</text>
<text class="s" x="1014" y="882">SPILLVÄRME</text>
<text class="s" x="1014" y="899">ESS</text>
</g>

<g id="varmande">
<path class="b" d="M784,1291H1110V1332.600H784Z"/>
<path d="M840,1292H918V1312H840ZM992,1292H1058V1316H992Z" fill="#8aacc0"/>
<path d="M784,1293.500H838V1315H921V1293.500H990V1318.500H1060V1293.500H1110" fill="none" stroke="#222" stroke-width="5"/>
<g class="k"><path d="M848,1298Q852,1295 856,1298L859,1296V1300L856,1298.500Q852,1301 848,1298Z"/><path d="M864,1298Q868,1295 872,1298L875,1296V1300L872,1298.500Q868,1301 864,1298Z"/><path d="M885,1297Q889,1294 893,1297L896,1295V1299L893,1297.500Q889,1300 885,1297Z"/><path d="M900,1298Q904,1295 908,1298L911,1296V1300L908,1298.500Q904,1301 900,1298Z"/><path d="M849,1305Q853,1302 857,1305L860,1303V1307L857,1305.500Q853,1308 849,1305Z"/><path d="M868,1306Q872,1303 876,1306L879,1304V1308L876,1306.500Q872,1309 868,1306Z"/><path d="M886,1306Q890,1303 894,1306L897,1304V1308L894,1306.500Q890,1309 886,1306Z"/><path d="M905,1305Q909,1302 913,1305L916,1303V1307L913,1305.500Q909,1308 905,1305Z"/></g>
<circle cx="925" cy="1263" r="3" class="k"/><path class="k" d="M921,1267H929L932,1281H928V1289H922V1281H918ZM921,1270L913,1274V1272L921,1268Z"/>
<path d="M911,1277h2v2h-2zM913,1281h2v2h-2zM911,1285h3v1h-3z" class="k"/>
<path class="k" d="M1019,1291L1026,1286L1033,1285L1030,1289L1024,1292Z"/><circle cx="1033" cy="1281" r="3" class="k"/><path d="M1029,1287L1033,1284" stroke="#111" stroke-width="1.500"/>
<use href="#walker" x="1060" y="1268" width="18" height="23"/>
<path d="M1070,1273H1078" stroke="#111" stroke-width="2"/>
<text class="t" x="784.500" y="1244.700">VÄRMANDE PLATSER</text>
</g>

<g id="samut">
<circle class="p" cx="314.800" cy="1267.600" r="24"/>
<path d="M314.800,1246V1269H331.600" fill="none" stroke="#fff" stroke-width="4"/>
<circle class="p" cx="563.800" cy="1267.600" r="24"/>
<path d="M565,1249.500L564,1270L552,1281" fill="none" stroke="#fff" stroke-width="3.500"/>
<rect class="p" x="258" y="1382" width="377" height="13"/>
<rect x="397" y="1289" width="83" height="41" fill="#a05a5a"/>
<path class="w" d="M405,1294h10v10h-10zM424.500,1294h10v10h-10zM443,1294h10v10h-10zM462,1294h10.500v10h-10.500zM405,1313h10v13h-10zM424.500,1313h10v13h-10zM443,1313h10v13h-10zM462,1313h10.500v13h-10.500z"/>
<rect class="p" x="397" y="1330" width="117" height="52"/>
<path class="w" d="M405,1338h10v13h-10zM425,1338h10v13h-10zM443,1338h10v13h-10zM462,1338h10v13h-10zM479,1338h10v13h-10zM497,1338h10v13h-10zM405,1360h30v22h-30zM442,1360h30v22h-30zM479.600,1360h9.400v22h-9.400zM497.500,1360h10.200v22h-10.200z"/>
<g transform="translate(260 1320) scale(.3333)">
<path d="M25,185L50,80H200L225,185M50,80L75,185M200,80L175,185" fill="none" stroke="#222" stroke-width="4"/>
<path d="M100,82L65,130M140,82L165,140" stroke="#555" stroke-width="1.500"/>
<circle class="k" cx="65" cy="118" r="7"/><path class="k" d="M55,127H72L78,148L88,163L80,168L68,152L60,150Z"/>
<circle class="k" cx="140" cy="130" r="7"/><path class="k" d="M142,138L155,150L190,145L192,152L160,160L145,158Z"/>
<circle class="k" cx="235" cy="105" r="9"/><path class="k" d="M220,120H245L250,150L240,185H225V150Z"/>
<circle class="k" cx="268" cy="95" r="10"/><path class="k" d="M255,110H278L285,145L280,150L285,185H270L262,155L245,185H235L250,145L245,125L225,135L222,128Z"/>
<circle cx="303" cy="125" r="7" fill="#fff" stroke="#111" stroke-width="3"/><path d="M293,135H313V150H293Z" fill="#fff" stroke="#111" stroke-width="3"/>
<path d="M285,185V148H298V185M298,185V148H311V185M311,185V148H324V185M337,185V148H350V185M350,185V148H363V185M363,185V148H376V185M376,185V148H389V185M389,185V148H402V185M402,185V148H411V185" fill="none" stroke="#d7b3c2" stroke-width="2"/>
<circle class="k" cx="866" cy="62" r="12"/><path class="k" d="M838,102L850,80H885Q893,82 893,92V150H885V185H870V140H866V185H852V105L842,112Z"/>
<path class="k" d="M792,130C795,112 815,98 838,102L838,112C835,130 815,148 798,148ZM820,100L810,82L835,95Z"/>
<circle cx="903" cy="130" r="13" fill="none" stroke="#888" stroke-width="2.500"/>
<path d="M930,28V60Q935,68 940,60V28M935,28V95M925,28V60" fill="none" stroke="#111" stroke-width="4"/>
<path class="k" d="M950,28Q965,30 965,60V95H955V65H950Z"/>
<path d="M940,112L942,135C928,142 922,170 940,180C955,185 965,175 962,160C960,148 950,145 948,135L950,112M950,115L975,118" fill="none" stroke="#111" stroke-width="4"/>
<circle cx="945" cy="160" r="5" class="k"/><circle cx="972" cy="122" r="8" class="k"/>
</g>
<text class="t" x="381" y="1243">SAMUTNYTTJANDE</text>
<text class="t" x="277" y="1310">FÖRSKOLA</text>
<text class="t" x="526.500" y="1310">KURSVERKSAMHET</text>
</g>
</svg>
